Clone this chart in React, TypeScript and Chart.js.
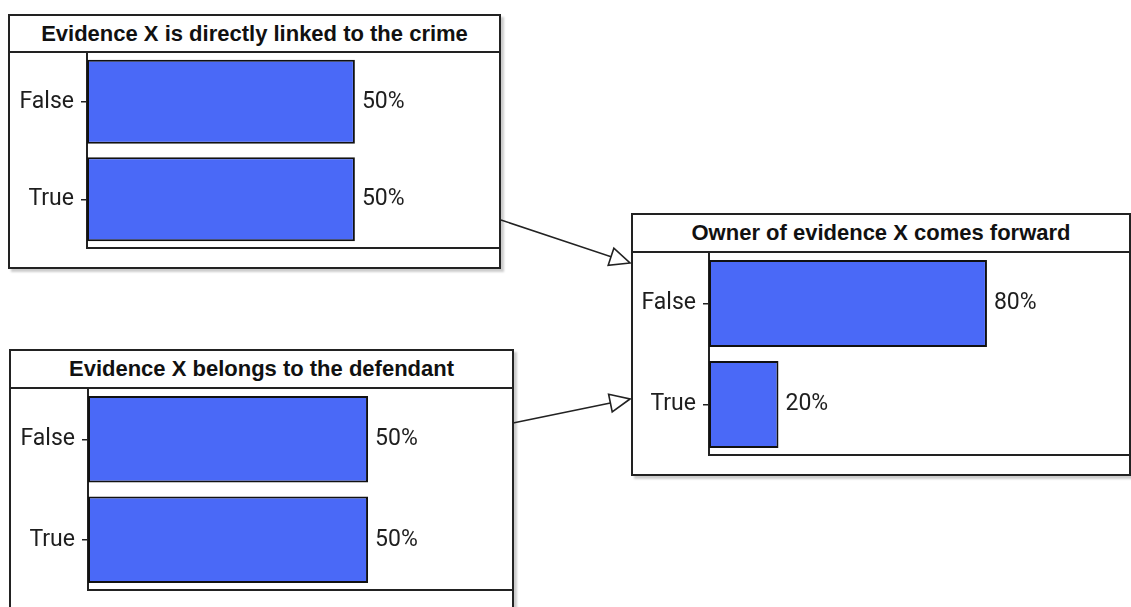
import React, { useEffect, useRef } from "react";
import { Chart, registerables } from "chart.js";
Chart.register(...registerables);

// ---- data ----
const STATES = ["False", "True"];
const NODE1_TITLE = "Evidence X is directly linked to the crime";
const NODE1_VALUES = [50, 50];
const NODE2_TITLE = "Evidence X belongs to the defendant";
const NODE2_VALUES = [50, 50];
const NODE3_TITLE = "Owner of evidence X comes forward";
const NODE3_VALUES = [80, 20];

// ---- styles ----
const BAR_COLOR = "#4a69f7";
const LINE = "#222";
const TEXT = "#1e1e1e";
const TICK_FONT = { family: "Roboto, 'DejaVu Sans', sans-serif", size: 23 };

type NodeProps = {
  title: string;
  states: string[];
  values: number[];
  left: number;
  top: number;
  width: number;
  height: number;
  titleH: number;
  axisW: number;
  bottomPad: number;
  xMax: number;
};

function NodeChart(p: NodeProps) {
  const ref = useRef<HTMLCanvasElement>(null);
  useEffect(() => {
    const valueLabels = {
      id: "valueLabels",
      afterDatasetsDraw(chart: any) {
        const ctx = chart.ctx;
        const meta = chart.getDatasetMeta(0);
        ctx.save();
        ctx.font = `${TICK_FONT.size}px ${TICK_FONT.family}`;
        ctx.fillStyle = TEXT;
        ctx.textBaseline = "middle";
        ctx.textAlign = "left";
        meta.data.forEach((el: any, i: number) => {
          ctx.fillText(`${p.values[i]}%`, el.x + 7, el.y);
        });
        ctx.restore();
      },
    };
    const chart = new Chart(ref.current as HTMLCanvasElement, {
      type: "bar",
      data: {
        labels: p.states,
        datasets: [
          {
            data: p.values,
            backgroundColor: BAR_COLOR,
            borderColor: "#111",
            borderWidth: 2,
            borderSkipped: false,
            barPercentage: 0.86,
            categoryPercentage: 1,
          },
        ],
      },
      options: {
        indexAxis: "y",
        animation: false,
        responsive: true,
        maintainAspectRatio: false,
        layout: { padding: { left: 0, right: 0, top: 0, bottom: p.bottomPad } },
        plugins: { legend: { display: false }, tooltip: { enabled: false } },
        scales: {
          x: {
            min: 0,
            max: p.xMax,
            ticks: { display: false },
            grid: { display: false },
            border: { display: true, color: LINE, width: 2 },
            afterFit: (s: any) => {
              s.height = 0;
              s.paddingLeft = 0;
              s.paddingRight = 0;
              s.paddingTop = 0;
              s.paddingBottom = 0;
            },
          },
          y: {
            ticks: { font: TICK_FONT, color: TEXT, padding: 7 },
            grid: {
              display: true,
              offset: false,
              drawOnChartArea: false,
              drawTicks: true,
              tickLength: 6,
              color: LINE,
              lineWidth: 1.5,
            },
            border: { display: true, color: LINE, width: 2 },
            afterFit: (s: any) => {
              s.width = p.axisW;
              s.paddingTop = 0;
              s.paddingBottom = 0;
              s.paddingLeft = 0;
              s.paddingRight = 0;
            },
          },
        },
      } as any,
      plugins: [valueLabels],
    });
    return () => chart.destroy();
  }, []);

  return (
    <div
      style={{
        position: "absolute",
        left: p.left,
        top: p.top,
        width: p.width,
        height: p.height,
        boxSizing: "border-box",
        border: `2px solid ${LINE}`,
        background: "#fff",
        boxShadow: "3px 3px 2px rgba(0,0,0,0.2)",
      }}
    >
      <div
        style={{
          height: p.titleH,
          boxSizing: "border-box",
          borderBottom: `2px solid ${LINE}`,
          display: "flex",
          alignItems: "center",
          justifyContent: "center",
          font: "bold 22px 'Liberation Sans', Arial, sans-serif",
          color: "#111",
          whiteSpace: "nowrap",
        }}
      >
        {p.title}
      </div>
      <div style={{ position: "relative", width: "100%", height: `calc(100% - ${p.titleH}px)` }}>
        <canvas ref={ref} />
      </div>
    </div>
  );
}

function arrowHead(x1: number, y1: number, x2: number, y2: number, len: number, half: number) {
  const dx = x2 - x1;
  const dy = y2 - y1;
  const d = Math.hypot(dx, dy);
  const ux = dx / d;
  const uy = dy / d;
  const bx = x2 - ux * len;
  const by = y2 - uy * len;
  const px = -uy;
  const py = ux;
  return {
    base: [bx, by],
    pts: `${x2},${y2} ${bx + px * half},${by + py * half} ${bx - px * half},${by - py * half}`,
  };
}

export default function App() {
  const a1 = arrowHead(501, 220, 630, 263, 20, 9);
  const a2 = arrowHead(513, 423, 630, 399, 20, 9);
  return (
    <div
      style={{
        position: "absolute",
        left: 0,
        top: 0,
        width: 1131,
        height: 607,
        overflow: "hidden",
        background: "#fff",
      }}
    >
      <NodeChart
        title={NODE1_TITLE}
        states={STATES}
        values={NODE1_VALUES}
        left={8}
        top={14}
        width={493}
        height={255}
        titleH={37}
        axisW={77}
        bottomPad={19}
        xMax={76.9}
      />
      <NodeChart
        title={NODE2_TITLE}
        states={STATES}
        values={NODE2_VALUES}
        left={9}
        top={349}
        width={505}
        height={263}
        titleH={38}
        axisW={77}
        bottomPad={20}
        xMax={75.7}
      />
      <NodeChart
        title={NODE3_TITLE}
        states={STATES}
        values={NODE3_VALUES}
        left={631}
        top={213}
        width={500}
        height={263}
        titleH={38}
        axisW={76}
        bottomPad={19}
        xMax={120.9}
      />
      <svg
        width={1131}
        height={607}
        style={{ position: "absolute", left: 0, top: 0, pointerEvents: "none" }}
      >
        <line x1={501} y1={220} x2={a1.base[0]} y2={a1.base[1]} stroke={LINE} strokeWidth={1.6} />
        <polygon points={a1.pts} fill="#fff" stroke={LINE} strokeWidth={1.6} />
        <line x1={513} y1={423} x2={a2.base[0]} y2={a2.base[1]} stroke={LINE} strokeWidth={1.6} />
        <polygon points={a2.pts} fill="#fff" stroke={LINE} strokeWidth={1.6} />
      </svg>
    </div>
  );
}
